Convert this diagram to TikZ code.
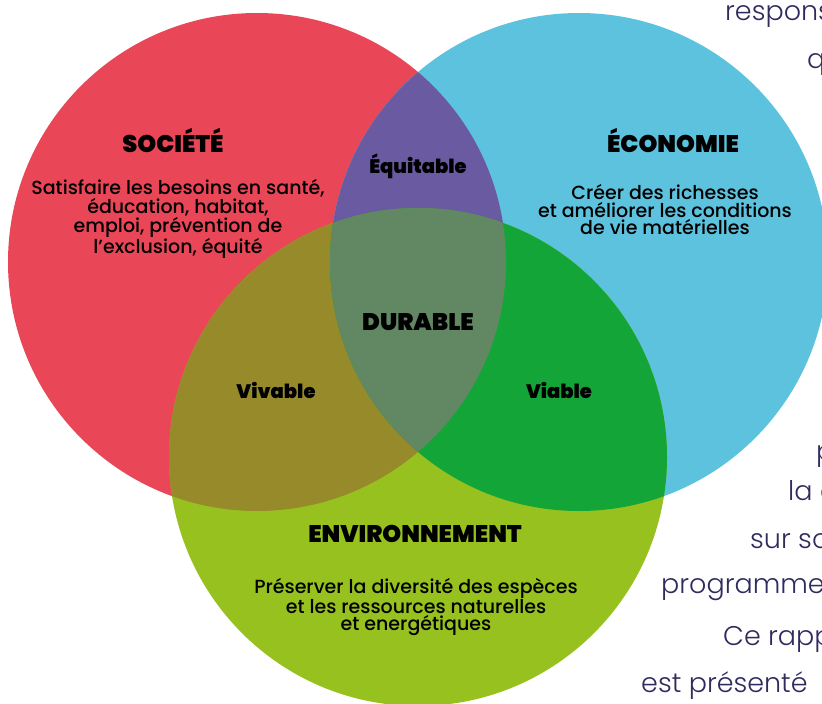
\documentclass[tikz,border=0pt]{standalone}
\usepackage{fontspec}
\setmainfont{Poppins}
\IfFontExistsTF{Poppins Black}{\newfontfamily\heavyfont{Poppins Black}}{%
  \IfFontExistsTF{Poppins ExtraBold}{\newfontfamily\heavyfont{Poppins ExtraBold}}{\newcommand\heavyfont{\bfseries}}}
\IfFontExistsTF{Poppins Medium}{\newfontfamily\mediumfont{Poppins Medium}}{\newcommand\mediumfont{\normalfont}}
\IfFontExistsTF{Poppins Light}{\newfontfamily\lightfont{Poppins Light}}{\newcommand\lightfont{\normalfont}}
\definecolor{socred}{HTML}{E94657}
\definecolor{ecoblue}{HTML}{5DC2DD}
\definecolor{envlime}{HTML}{96C11F}
\definecolor{equipurple}{HTML}{6A5AA2}
\definecolor{vivolive}{HTML}{978A2A}
\definecolor{viagreen}{HTML}{14A538}
\definecolor{durgray}{HTML}{618763}
\definecolor{pageink}{HTML}{2F2B5F}
\newcommand\circr{249}

\begin{document}
\begin{tikzpicture}[
  x=1pt, y=-1pt,
% headings of the three spheres:
  heading/.style = {font=\heavyfont\fontsize{24}{24}\selectfont, inner sep=0pt},
% overlaps:
  tag/.style = {font=\heavyfont\fontsize{19.5}{19.5}\selectfont, inner sep=0pt},
  body/.style = {font=\mediumfont\fontsize{19}{17.5}\selectfont, align=center, inner sep=0pt},
% running text of the page behind:
  pagetext/.style = {font=\lightfont\fontsize{27}{27}\selectfont, text=pageink,
                     anchor=base west, inner sep=0pt},
]
  \useasboundingbox (0,0) rectangle (822,704);
  \clip (0,0) rectangle (822,704);

  \coordinate (soc) at (257,262);
  \coordinate (eco) at (579,262);
  \coordinate (env) at (418,457);

  % the three circles
  \fill[socred] (soc) circle [radius=\circr];
  \fill[ecoblue] (eco) circle [radius=\circr];
  \fill[envlime] (env) circle [radius=\circr];
  % the overlaps
  \begin{scope}
    \clip (soc) circle [radius=\circr];
    \fill[equipurple] (eco) circle [radius=\circr];
    \fill[vivolive] (env) circle [radius=\circr];
  \end{scope}
  \begin{scope}
    \clip (eco) circle [radius=\circr];
    \fill[viagreen] (env) circle [radius=\circr];
  \end{scope}
  \begin{scope}
    \clip (soc) circle [radius=\circr];
    \clip (eco) circle [radius=\circr];
    \fill[durgray] (env) circle [radius=\circr];
  \end{scope}

  \node[heading] (societe) at (173,140) {SOCIÉTÉ};
  \node[body] (societe-txt) at (178,219) {%
    Satisfaire les besoins en santé,\\%
    éducation, habitat,\\%
    emploi, prévention de\\%
    l’exclusion, équité%
  };
  \node[heading] (economie) at (673,140) {ÉCONOMIE};
  \node[body] (economie-txt) at (665,210) {%
    Créer des richesses\\%
    et améliorer les conditions\\%
    de vie matérielles%
  };
  \node[heading] (environnement) at (415,534) {ENVIRONNEMENT};
  \node[body] (environnement-txt) at (416,607) {%
    Préserver la diversité des espèces\\%
    et les ressources naturelles\\%
    et energétiques%
  };

  \node[tag] (equitable) at (418,166) {Équitable};
  \node[tag] (vivable) at (276,390) {Vivable};
  \node[tag] (viable) at (559,390) {Viable};
  \node[heading] (durable) at (418,322) {DURABLE};

  % page text on the right
  \node[pagetext] (p1) at (725,20) {respons};
  \node[pagetext] (p2) at (807,68) {q};
  \node[pagetext] (p3) at (816,460) {p};
  \node[pagetext] (p4) at (788,500) {la c};
  \node[pagetext] (p5) at (750,548) {sur so};
  \node[pagetext] (p6) at (661,593) {programme};
  \node[pagetext] (p7) at (723,645) {Ce rapp};
  \node[pagetext] (p8) at (641,692) {est présenté};
\end{tikzpicture}
\end{document}
